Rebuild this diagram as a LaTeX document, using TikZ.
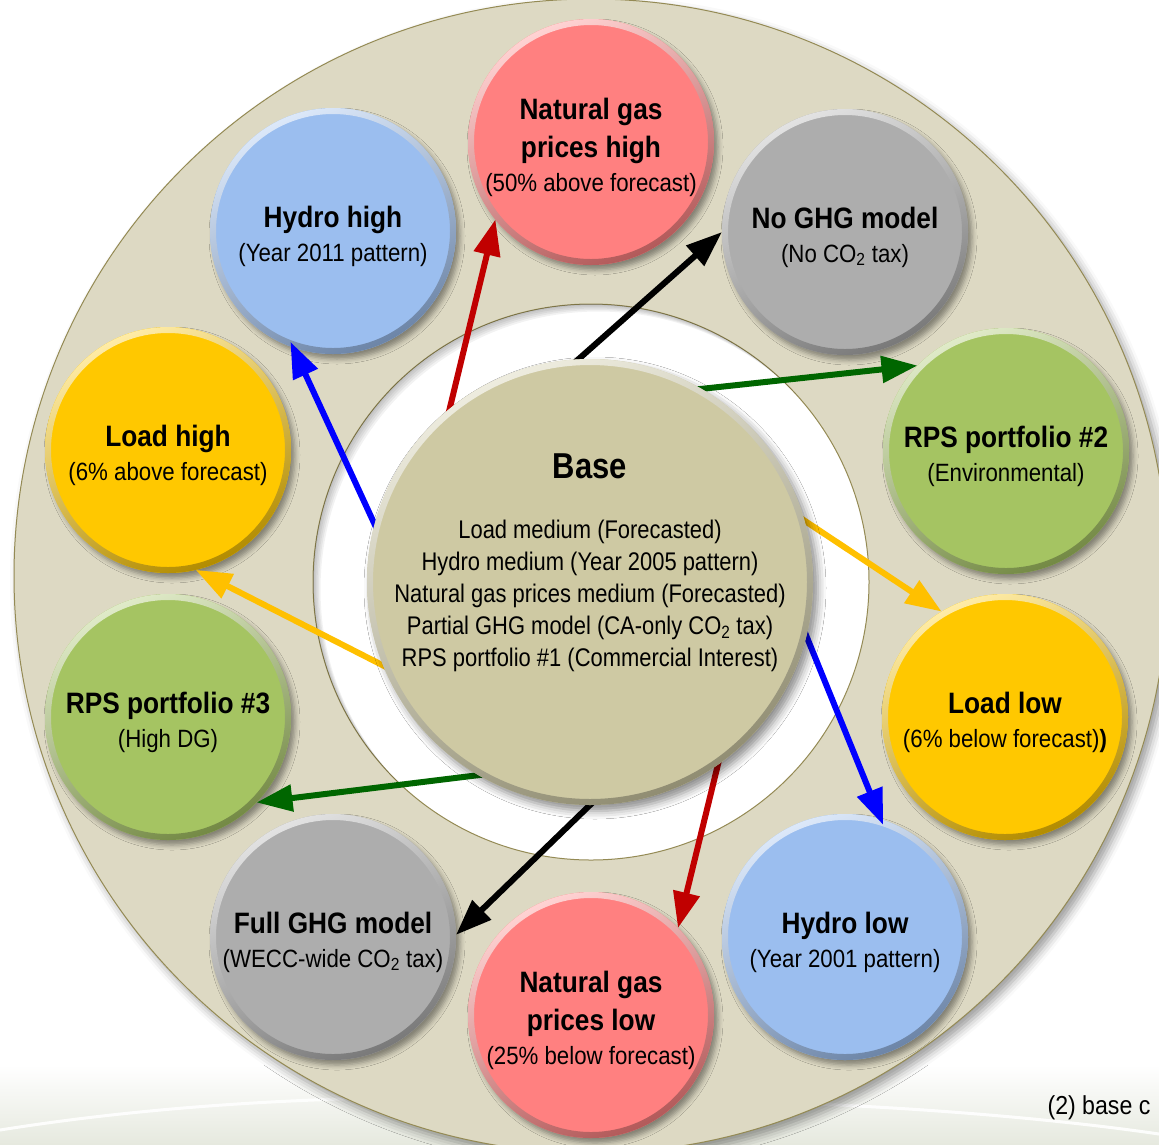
\documentclass[tikz,border=0pt]{standalone}
\usepackage{fontspec}
\setmainfont{Liberation Sans}[FakeStretch=0.86]
\newfontfamily\satfont{Liberation Sans}[FakeStretch=0.89]
\usetikzlibrary{arrows.meta,calc,shadows.blur}

\definecolor{ringbeige}{HTML}{DDD9C3}
\definecolor{ringline}{HTML}{948A54}
\definecolor{stripgray}{HTML}{E6E9DF}
\definecolor{basefill}{HTML}{CEC9A3}
\definecolor{gasfill}{HTML}{FF8080}
\definecolor{ghgfill}{HTML}{ADADAD}
\definecolor{rpsfill}{HTML}{A5C462}
\definecolor{loadfill}{HTML}{FFC800}
\definecolor{hydrofill}{HTML}{9BBEEF}
\definecolor{arrred}{HTML}{C00000}
\definecolor{arrgreen}{HTML}{006600}
\definecolor{arrorange}{HTML}{FFC000}
\definecolor{arrblue}{HTML}{0000FF}

\newcommand\sattitle[1]{{\fontsize{29.5}{34}\selectfont\bfseries #1}}
\newcommand\satsub[1]{{\fontsize{25}{34}\selectfont #1}}

\tikzset{
  sat/.style={circle, minimum size=246pt, inner sep=0pt, outer sep=0pt,
    fill=#1,
    blur shadow={shadow xshift=4pt, shadow yshift=-5pt,
      shadow blur radius=5pt, shadow opacity=40}},
  sattext/.style={align=center, font=\satfont\fontsize{25}{34}\selectfont},
  hubshape/.style={circle, minimum size=446pt, inner sep=0pt, outer sep=0pt},
  arr/.style={line width=6pt, -{Triangle[length=36pt,width=26pt]}},
}

% raised rim of a disc: light upper edge, darker lower edge
\newcommand\bevel[3]{%
  \shade[even odd rule, top color=#3!35!white, middle color=#3,
    bottom color=#3!70!black, shading angle=25]
    (#1.center) circle (#2) (#1.center) circle ({#2-6pt});
}

% one variant: disc, rim and its two- or three-line caption
\newcommand\variant[4]{%
  \node[sat=#3] (#1) at (#2) {};
  \bevel{#1}{123pt}{#3}
  \node[sattext] (#1text) at ($(#1.center)+(0,5)$) {#4};
}

\begin{document}
\begin{tikzpicture}[x=1pt,y=-1pt]
\useasboundingbox (0,0) rectangle (1159,1144);

% pale strip along the lower margin
\shade[top color=white, bottom color=stripgray] (0,1065) rectangle (1159,1144);
\draw[white, line width=3pt, opacity=0.9]
  (0,1130) .. controls (200,1098) and (420,1092) .. (600,1102);
\draw[white, line width=3pt, opacity=0.9]
  (760,1102) .. controls (900,1106) and (1050,1118) .. (1159,1134);

% outer ring and the white channel round the centre
\fill[ringbeige, draw=ringline, line width=1pt,
  blur shadow={shadow xshift=5pt, shadow yshift=-6pt,
    shadow blur radius=9pt, shadow opacity=40}]
  (591,576) circle (577pt);
\fill[white, draw=ringline, line width=1pt] (591,582) circle (278pt);
\begin{scope}
  \clip (591,582) circle (278pt);
  \foreach \o in {1.5,3,4.5,6,7.5}
    \fill[black, opacity=0.05, even odd rule]
      (591,582) circle (300pt) ($(591,582)+(\o,\o)$) circle (278pt);
\end{scope}

% the ten variants round the ring
\variant{ngh}{591,142}{gasfill}
  {\sattitle{Natural gas}\\[4pt]\sattitle{prices high}\\\satsub{(50\% above forecast)}}
\variant{nog}{845,232}{ghgfill}
  {\sattitle{No GHG model}\\\satsub{(No CO\textsubscript{2} tax)}}
\variant{rps2}{1006,451}{rpsfill}
  {\sattitle{RPS portfolio \#2}\\\satsub{(Environmental)}}
\variant{lol}{1005,717}{loadfill}
  {\sattitle{Load low}\\\satsub{(6\% below forecast)\textbf{)}}}
\variant{hyl}{845,937}{hydrofill}
  {\sattitle{Hydro low}\\\satsub{(Year 2001 pattern)}}
\variant{ngl}{591,1015}{gasfill}
  {\sattitle{Natural gas}\\[4pt]\sattitle{prices low}\\\satsub{(25\% below forecast)}}
\variant{fgh}{333,937}{ghgfill}
  {\sattitle{Full GHG model}\\\satsub{(WECC-wide CO\textsubscript{2} tax)}}
\variant{rps3}{168,717}{rpsfill}
  {\sattitle{RPS portfolio \#3}\\\satsub{(High DG)}}
\variant{loh}{168,450}{loadfill}
  {\sattitle{Load high}\\\satsub{(6\% above forecast)}}
\variant{hyh}{333,231}{hydrofill}
  {\sattitle{Hydro high}\\\satsub{(Year 2011 pattern)}}

% outline of the base case, used to start the arrows beneath it
\path node[hubshape] (hub) at (590,582) {};

% one arrow from the base case to each variant
\draw[arr, arrred]    ($(hub.129.7)!-20pt!(ngh.219)$)   -- (ngh.219);
\draw[arr, black]     ($(hub.93.5)!-20pt!(nog.180)$)    -- (nog.180);
\draw[arr, arrgreen]  ($(hub.60)!-20pt!(rps2.136)$)     -- (rps2.136);
\draw[arr, arrorange] ($(hub.16.6)!-20pt!(lol.121.7)$)  -- (lol.121.7);
\draw[arr, arrblue, shorten >=-6pt] ($(hub.-14.2)!-20pt!(hyl.73.4)$) -- (hyl.73.4);
\draw[arr, arrred]    ($(hub.-55.5)!-20pt!(ngl.45.3)$)  -- (ngl.45.3);
\draw[arr, black]     ($(hub.-90.5)!-20pt!(fgh.1)$)     -- (fgh.1);
\draw[arr, arrgreen]  ($(hub.-120)!-20pt!(rps3.-44.3)$) -- (rps3.-44.3);
\draw[arr, arrorange] ($(hub.-158.6)!-20pt!(loh.-77.6)$) -- (loh.-77.6);
\draw[arr, arrblue, shorten >=-6pt] ($(hub.165.7)!-20pt!(hyh.-109.3)$) -- (hyh.-109.3);

% the base case in the middle, over the arrow roots
\node[hubshape, fill=basefill,
  blur shadow={shadow xshift=5pt, shadow yshift=-6pt,
    shadow blur radius=8pt, shadow opacity=45}] (base) at (hub.center) {};
\bevel{base}{223pt}{basefill}
\node[align=center, font=\fontsize{25.5}{32}\selectfont] (basetext) at (590,563)
  {{\fontsize{36}{40}\selectfont\bfseries Base}\\[28pt]
   Load medium (Forecasted)\\
   Hydro medium (Year 2005 pattern)\\
   Natural gas prices medium (Forecasted)\\
   Partial GHG model (CA-only CO\textsubscript{2} tax)\\
   RPS portfolio \#1 (Commercial Interest)};

\node[anchor=west, font=\satfont\fontsize{26}{30}\selectfont] (note) at (1044,1108) {(2) base c};
\end{tikzpicture}
\end{document}
